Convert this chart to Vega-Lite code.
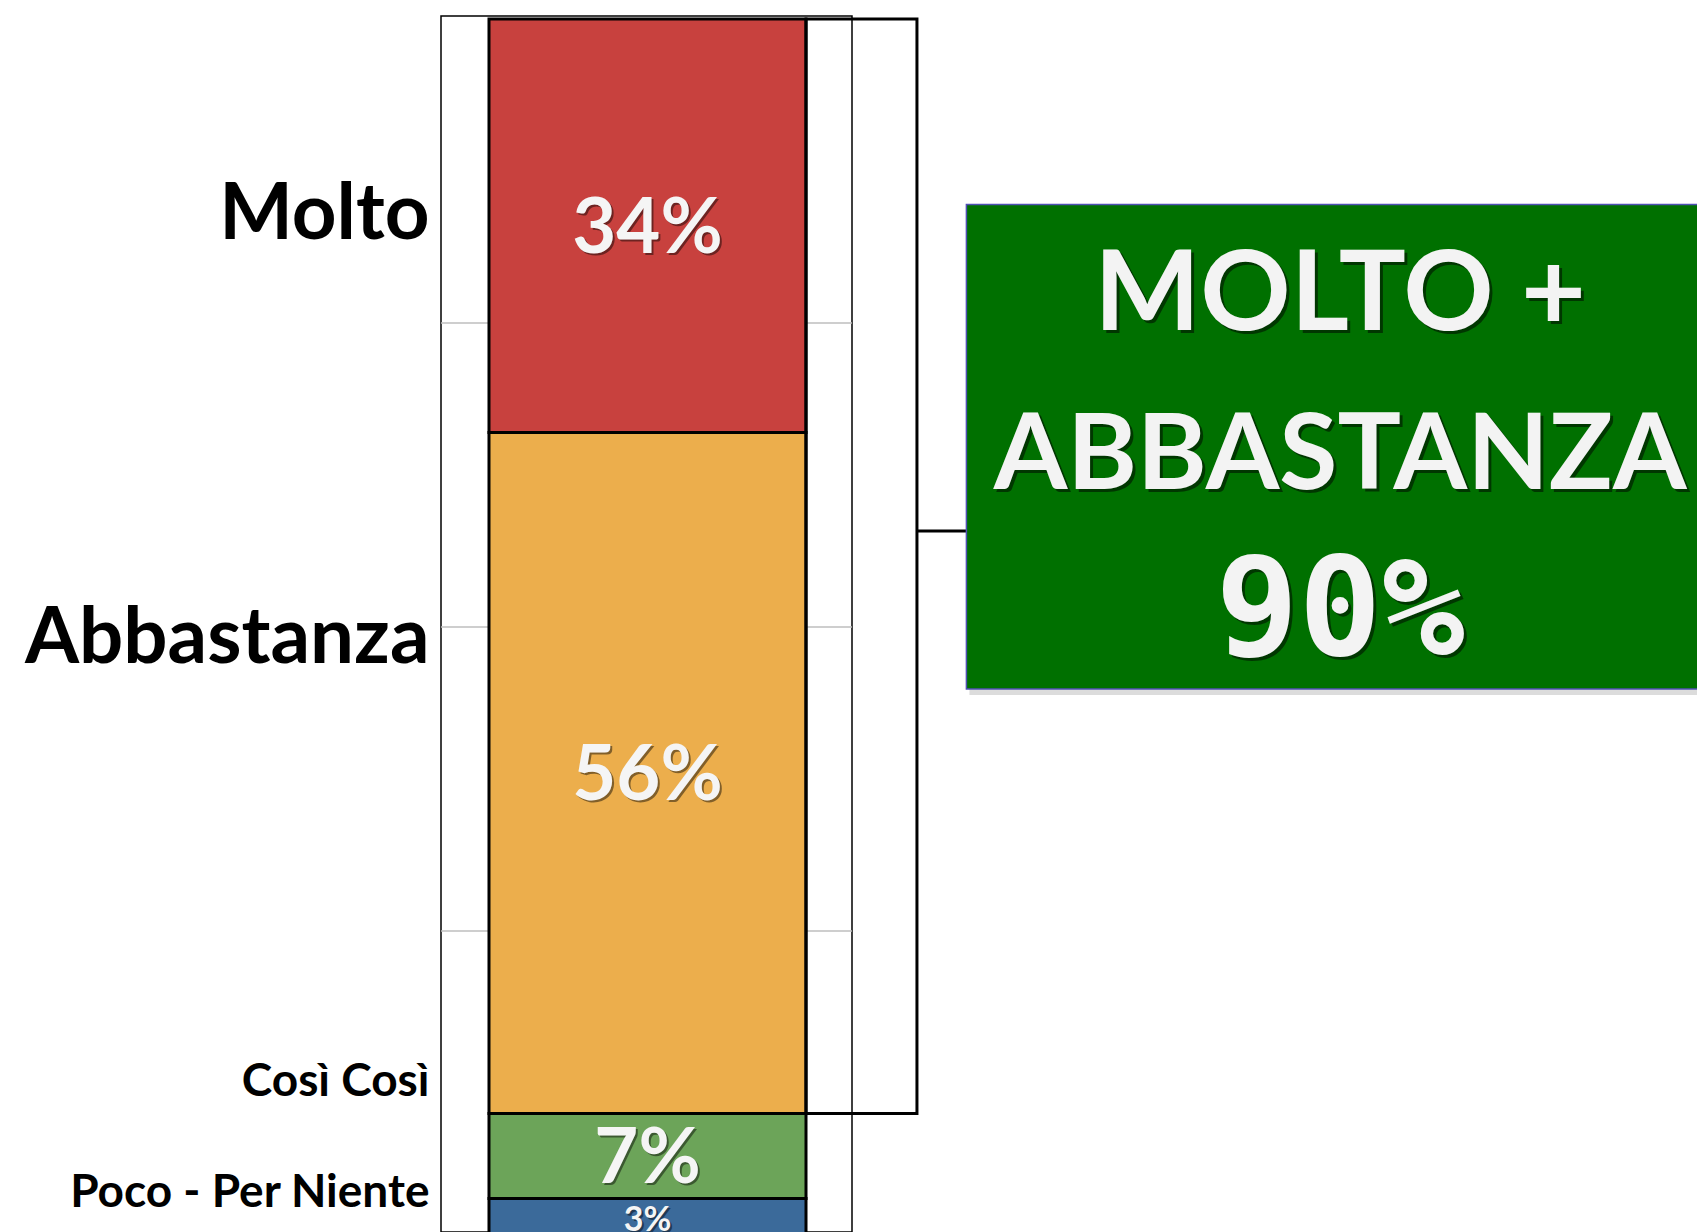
{
  "$schema": "https://vega.github.io/schema/vega-lite/v6.json",
  "width": 411,
  "height": 1216,
  "autosize": {"type": "none"},
  "padding": {"left": 441, "top": 16, "right": 845, "bottom": 0},
  "background": "white",
  "config": {"view": {"stroke": "#000000", "strokeWidth": 1.5}},
  "resolve": {"axis": {"y": "independent", "x": "independent"}},
  "datasets": {
    "resp": [
      {"cat": "Molto", "pct": 0.34, "ord": 1},
      {"cat": "Abbastanza", "pct": 0.56, "ord": 2},
      {"cat": "Così Così", "pct": 0.07, "ord": 3},
      {"cat": "Poco - Per Niente", "pct": 0.03, "ord": 4}
    ]
  },
  "layer": [
    {
      "data": {"values": [{"g": 0.25}, {"g": 0.5}, {"g": 0.75}]},
      "mark": {"type": "rule", "color": "#BEBEBE", "strokeWidth": 1.5},
      "encoding": {
        "y": {"field": "g", "type": "quantitative", "scale": {"domain": [-0.0025, 0.9975], "reverse": true, "nice": false, "zero": false}, "axis": null}
      }
    },
    {
      "data": {"name": "resp"},
      "transform": [
        {"stack": "pct", "groupby": [], "sort": [{"field": "ord", "order": "ascending"}], "as": ["y0", "y1"]}
      ],
      "mark": {"type": "rect", "stroke": "#000000", "strokeWidth": 3},
      "encoding": {
        "x": {"datum": 0, "type": "quantitative", "scale": {"domain": [-0.1514, 1.1451], "nice": false, "zero": false}, "axis": null},
        "x2": {"datum": 1},
        "y": {
          "field": "y0", "type": "quantitative",
          "scale": {"domain": [-0.0025, 0.9975], "reverse": true, "nice": false, "zero": false},
          "axis": {
            "orient": "left",
            "values": [0.1801, 0.5288, 0.8849, 0.9762],
            "labelExpr": "datum.value < 0.3 ? 'Molto' : datum.value < 0.6 ? 'Abbastanza' : datum.value < 0.93 ? 'Così Così' : 'Poco - Per Niente'",
            "title": null, "grid": false, "ticks": false, "tickSize": 0, "domain": false,
            "labelPadding": 12, "labelFont": "Lato", "labelFontWeight": "bold", "labelColor": "#000000",
            "labelFontSize": {"condition": {"test": "datum.value < 0.6", "value": 78}, "value": 46},
            "labelBaseline": "alphabetic", "labelAlign": "right", "labelOverlap": false,
            "labelLimit": 1000, "labelFlush": false, "labelBound": false
          }
        },
        "y2": {"field": "y1"},
        "color": {
          "field": "cat", "type": "nominal",
          "scale": {"domain": ["Molto", "Abbastanza", "Così Così", "Poco - Per Niente"], "range": ["#C8413E", "#ECAE4C", "#6CA459", "#3B6A9A"]},
          "legend": null
        }
      }
    },
    {
      "data": {"name": "resp"},
      "transform": [
        {"stack": "pct", "groupby": [], "sort": [{"field": "ord", "order": "ascending"}], "as": ["y0", "y1"]},
        {"filter": "datum.ord <= 2"},
        {"aggregate": [{"op": "min", "field": "y0", "as": "lo"}, {"op": "max", "field": "y1", "as": "hi"}]}
      ],
      "mark": {"type": "rect", "fill": "#FFFFFF", "fillOpacity": 0, "stroke": "#000000", "strokeWidth": 3},
      "encoding": {
        "x": {"datum": 1, "type": "quantitative", "axis": null},
        "x2": {"datum": 1.35},
        "y": {"field": "lo", "type": "quantitative", "axis": null},
        "y2": {"field": "hi"}
      }
    },
    {
      "data": {"values": [{}]},
      "mark": {"type": "rule", "color": "#000000", "strokeWidth": 3},
      "encoding": {
        "x": {"datum": 1.35, "type": "quantitative", "axis": null},
        "x2": {"datum": 1.505},
        "y": {"datum": 0.421, "type": "quantitative", "axis": null}
      }
    },
    {
      "data": {"values": [{}]},
      "mark": {"type": "rect", "fill": "#9A9A9A", "opacity": 0.35, "xOffset": 3, "yOffset": 6, "x2Offset": 3, "y2Offset": 6},
      "encoding": {
        "x": {"datum": 1.506, "type": "quantitative", "axis": null},
        "x2": {"datum": 3.9},
        "y": {"datum": 0.1526, "type": "quantitative", "axis": null},
        "y2": {"datum": 0.551}
      }
    },
    {
      "data": {"values": [{}]},
      "mark": {"type": "rect", "fill": "#007000", "stroke": "#5050B4", "strokeWidth": 1.5},
      "encoding": {
        "x": {"datum": 1.506, "type": "quantitative", "axis": null},
        "x2": {"datum": 3.9},
        "y": {"datum": 0.1526, "type": "quantitative", "axis": null},
        "y2": {"datum": 0.551}
      }
    },
    {
      "data": {"values": [{}]},
      "mark": {"type": "text", "text": "MOLTO +", "font": "Lato", "fontWeight": "bold", "fontSize": 112, "color": "#000000", "opacity": 0.5, "dx": 3, "dy": 3, "align": "center", "baseline": "alphabetic"},
      "encoding": {
        "x": {"datum": 2.685, "type": "quantitative", "axis": null},
        "y": {"datum": 0.2558, "type": "quantitative", "axis": null}
      }
    },
    {
      "data": {"values": [{}]},
      "mark": {"type": "text", "text": "MOLTO +", "font": "Lato", "fontWeight": "bold", "fontSize": 112, "color": "#F3F3F3", "align": "center", "baseline": "alphabetic"},
      "encoding": {
        "x": {"datum": 2.685, "type": "quantitative", "axis": null},
        "y": {"datum": 0.2558, "type": "quantitative", "axis": null}
      }
    },
    {
      "data": {"values": [{}]},
      "mark": {"type": "text", "text": "ABBASTANZA", "font": "Lato", "fontWeight": "bold", "fontSize": 106, "color": "#000000", "opacity": 0.5, "dx": 3, "dy": 3, "align": "center", "baseline": "alphabetic"},
      "encoding": {
        "x": {"datum": 2.685, "type": "quantitative", "axis": null},
        "y": {"datum": 0.3865, "type": "quantitative", "axis": null}
      }
    },
    {
      "data": {"values": [{}]},
      "mark": {"type": "text", "text": "ABBASTANZA", "font": "Lato", "fontWeight": "bold", "fontSize": 106, "color": "#F3F3F3", "align": "center", "baseline": "alphabetic"},
      "encoding": {
        "x": {"datum": 2.685, "type": "quantitative", "axis": null},
        "y": {"datum": 0.3865, "type": "quantitative", "axis": null}
      }
    },
    {
      "data": {"name": "resp"},
      "transform": [
        {"filter": "datum.ord <= 2"},
        {"aggregate": [{"op": "sum", "field": "pct", "as": "tot"}]}
      ],
      "mark": {"type": "text", "font": "DejaVu Sans Mono", "fontWeight": "bold", "fontSize": 138, "color": "#000000", "opacity": 0.5, "dx": 3, "dy": 3, "align": "center", "baseline": "alphabetic"},
      "encoding": {
        "x": {"datum": 2.685, "type": "quantitative", "axis": null},
        "y": {"datum": 0.523, "type": "quantitative", "axis": null},
        "text": {"field": "tot", "type": "quantitative", "format": ".0%"}
      }
    },
    {
      "data": {"name": "resp"},
      "transform": [
        {"filter": "datum.ord <= 2"},
        {"aggregate": [{"op": "sum", "field": "pct", "as": "tot"}]}
      ],
      "mark": {"type": "text", "font": "DejaVu Sans Mono", "fontWeight": "bold", "fontSize": 138, "color": "#F3F3F3", "align": "center", "baseline": "alphabetic"},
      "encoding": {
        "x": {"datum": 2.685, "type": "quantitative", "axis": null},
        "y": {"datum": 0.523, "type": "quantitative", "axis": null},
        "text": {"field": "tot", "type": "quantitative", "format": ".0%"}
      }
    },
    {
      "data": {"name": "resp"},
      "transform": [
        {"stack": "pct", "groupby": [], "sort": [{"field": "ord", "order": "ascending"}], "as": ["y0", "y1"]},
        {"fold": ["y0", "y1"], "as": ["k", "v"]},
        {"aggregate": [{"op": "mean", "field": "v", "as": "mid"}], "groupby": ["cat", "pct"]}
      ],
      "mark": {"type": "text", "font": "Lato", "fontWeight": "bold", "color": "#000000", "opacity": 0.45, "dx": 2, "dy": 6, "align": "center", "baseline": "middle"},
      "encoding": {
        "x": {"datum": 0.5, "type": "quantitative", "axis": null},
        "y": {"field": "mid", "type": "quantitative", "axis": null},
        "text": {"field": "pct", "type": "quantitative", "format": ".0%"},
        "size": {"condition": {"test": "datum.pct < 0.05", "value": 34}, "value": 76}
      }
    },
    {
      "data": {"name": "resp"},
      "transform": [
        {"stack": "pct", "groupby": [], "sort": [{"field": "ord", "order": "ascending"}], "as": ["y0", "y1"]},
        {"fold": ["y0", "y1"], "as": ["k", "v"]},
        {"aggregate": [{"op": "mean", "field": "v", "as": "mid"}], "groupby": ["cat", "pct"]}
      ],
      "mark": {"type": "text", "font": "Lato", "fontWeight": "bold", "color": "#F5F5F5", "dy": 4, "align": "center", "baseline": "middle"},
      "encoding": {
        "x": {"datum": 0.5, "type": "quantitative", "axis": null},
        "y": {"field": "mid", "type": "quantitative", "axis": null},
        "text": {"field": "pct", "type": "quantitative", "format": ".0%"},
        "size": {"condition": {"test": "datum.pct < 0.05", "value": 34}, "value": 76}
      }
    }
  ]
}
